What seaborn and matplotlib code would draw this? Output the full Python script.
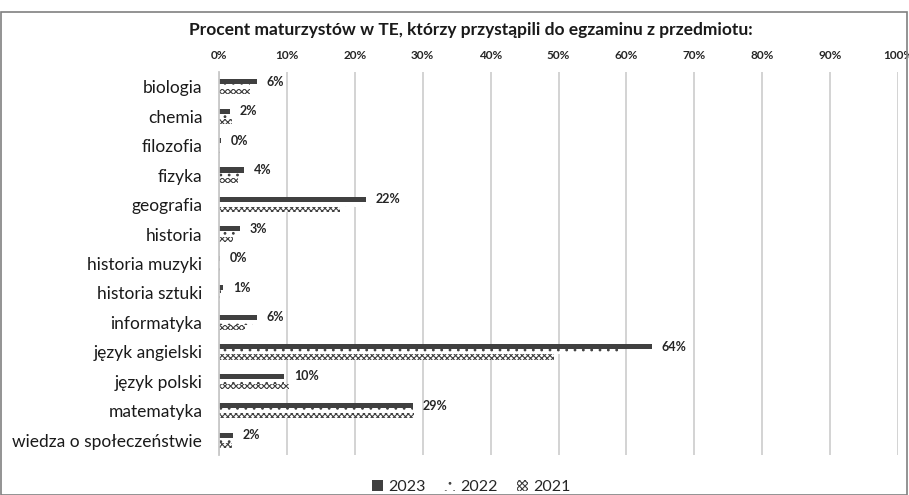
import matplotlib
matplotlib.use("Agg")
import matplotlib.pyplot as plt
import matplotlib.patches as mpatches
import seaborn as sns
import pandas as pd

categories = ["biologia", "chemia", "filozofia", "fizyka", "geografia", "historia",
              "historia muzyki", "historia sztuki", "informatyka", "język angielski",
              "język polski", "matematyka", "wiedza o społeczeństwie"]
years = ["2023", "2022", "2021"]
v2023 = [5.6, 1.6, 0.3, 3.7, 21.6, 3.1, 0.2, 0.6, 5.6, 63.7, 9.6, 28.6, 2.1]
v2022 = [4.6, 1.8, 0.3, 3.3, 22.7, 2.4, 0.2, 0.3, 5.0, 59.0, 9.5, 28.6, 1.8]
v2021 = [4.5, 1.9, 0.1, 2.8, 17.8, 2.1, 0.1, 0.2, 3.8, 49.4, 10.3, 28.7, 1.9]
xticks = [0, 10, 20, 30, 40, 50, 60, 70, 80, 90, 100]
title = "Procent maturzystów w TE, którzy przystąpili do egzaminu z przedmiotu:"

rows = []
for y, vals in zip(years, [v2023, v2022, v2021]):
    for c, v in zip(categories, vals):
        rows.append({"przedmiot": c, "rok": y, "procent": v})
df = pd.DataFrame(rows)

sns.set_theme(style="white")
plt.rcParams["font.family"] = ["Lato", "DejaVu Sans"]
plt.rcParams["hatch.linewidth"] = 0.8

dark = "#404040"
fig = plt.figure(figsize=(9.09, 4.95), dpi=100)
ax = fig.add_axes([219 / 909, 1 - 455 / 495, (898 - 219) / 909, (455 - 72) / 495])

sns.barplot(data=df, y="przedmiot", x="procent", hue="rok", hue_order=years,
            order=categories, orient="h", width=0.52, gap=0, ax=ax,
            palette=[dark, "white", "white"], legend=False, saturation=1)

hatches = [None, "..", "xxxxxx"]
for cont, h in zip(ax.containers, hatches):
    for p in cont:
        if h is None:
            p.set_facecolor(dark)
            p.set_edgecolor(dark)
            p.set_linewidth(0)
        else:
            p.set_facecolor("white")
            p.set_edgecolor(dark)
            p.set_hatch(h)
            p.set_linewidth(0)

ax.bar_label(ax.containers[0], labels=[f"{v:.0f}%" for v in v2023], padding=7,
             fontsize=9, fontweight="bold", color="#262626")

ax.set_xlim(0, 100)
ax.set_ylim(len(categories) - 0.5, -0.5)
ax.set_xticks(xticks)
ax.set_xticklabels([f"{t}%" for t in xticks], fontsize=8.5, fontweight="bold", color="#262626")
ax.xaxis.tick_top()
ax.tick_params(axis="x", length=0, pad=8)
ax.tick_params(axis="y", length=0, pad=12, labelsize=12.5, labelcolor="#1a1a1a")
ax.set_xlabel("")
ax.set_ylabel("")
ax.grid(axis="x", color="#d0d0d0", linewidth=1.3)
ax.set_axisbelow(True)
for s in ["top", "right", "bottom"]:
    ax.spines[s].set_visible(False)
ax.spines["left"].set_color("#c8c8c8")
ax.spines["left"].set_linewidth(1.3)

fig.text(471 / 909, 1 - 30 / 495, title, ha="center", va="center",
         fontsize=12.5, fontweight="bold", color="#1a1a1a")

handles = [mpatches.Patch(facecolor=dark, edgecolor=dark, linewidth=0, label="2023"),
           mpatches.Patch(facecolor="white", edgecolor=dark, hatch="..", linewidth=0, label="2022"),
           mpatches.Patch(facecolor="white", edgecolor=dark, hatch="xxxxxx", linewidth=0, label="2021")]
fig.legend(handles=handles, loc="center", bbox_to_anchor=(471 / 909, 1 - 487 / 495),
           ncol=3, frameon=False, fontsize=11.5, handlelength=0.7, handleheight=0.7,
           handletextpad=0.3, columnspacing=1.2)

border = mpatches.Rectangle((0.001, 0.0), 0.997, 1 - 12 / 495, transform=fig.transFigure,
                            fill=False, edgecolor="#808080", linewidth=1.2)
fig.patches.append(border)

fig.savefig("out.png", dpi=100)
